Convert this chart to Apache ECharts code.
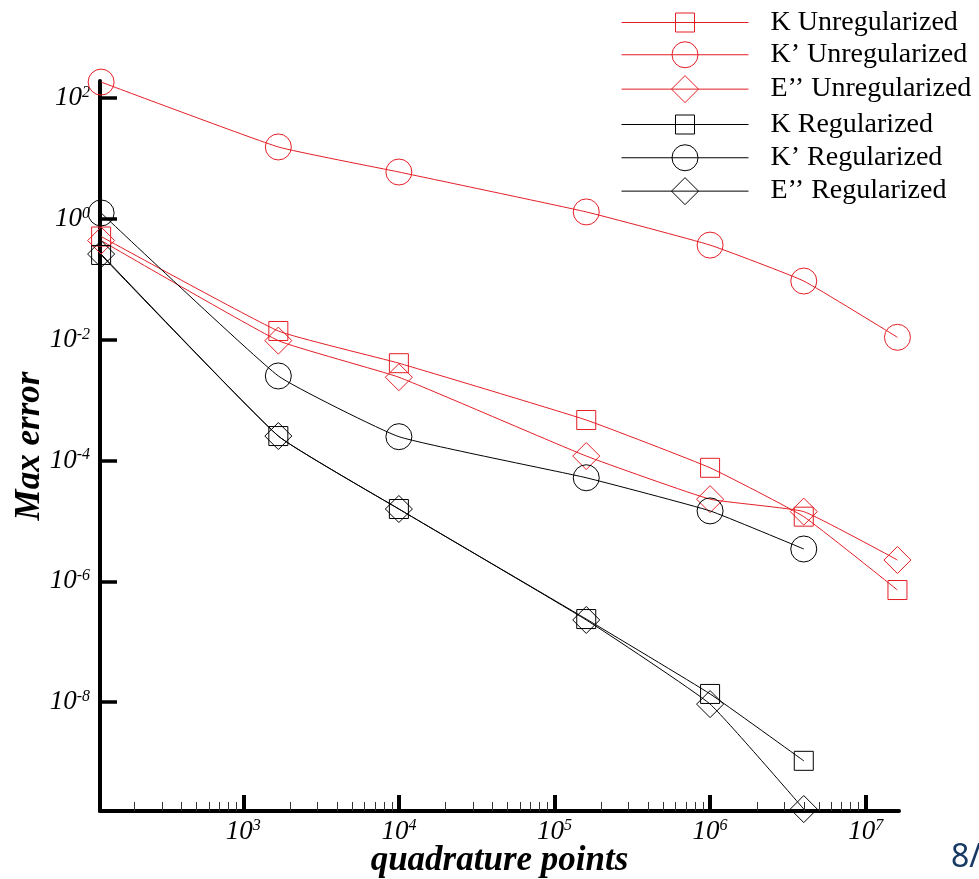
<!DOCTYPE html>
<html>
<head>
<meta charset="utf-8">
<title>Max error vs quadrature points</title>
<script src="https://cdn.jsdelivr.net/npm/echarts@6/dist/echarts.min.js"></script>
<style>
  html, body { margin: 0; padding: 0; background: #fff; }
  #chart { width: 979px; height: 879px; }
</style>
</head>
<body>
<div id="chart"></div>
<script>
// Number of quadrature points for each refinement level
const quadPoints = [122, 1680, 10000, 160000, 1000000, 4000000, 16000000];

// Max error of each kernel, unregularized vs regularized
const kUnreg  = [0.513, 0.014, 0.0041, 4.7e-4, 7.6e-5, 1.18e-5, 7.2e-7];
const kpUnreg = [185, 15.6, 6.0, 1.31, 0.37, 0.094, 0.011];
const eUnreg  = [0.44, 0.0097, 0.0024, 1.19e-4, 2.3e-5, 1.43e-5, 2.26e-6];
const kReg    = [0.254, 2.55e-4, 1.58e-5, 2.38e-7, 1.37e-8, 1.07e-9];
const kpReg   = [1.26, 2.52e-3, 2.49e-4, 5.2e-5, 1.47e-5, 3.44e-6];
const eReg    = [0.263, 2.55e-4, 1.58e-5, 2.3e-7, 9.3e-9, 1.7e-10];

const seriesNames = [
  'K Unregularized', 'K\u2019 Unregularized', 'E\u2019\u2019 Unregularized',
  'K Regularized', 'K\u2019 Regularized', 'E\u2019\u2019 Regularized'
];

// Tick positions
const xMajorTicks = [1e3, 1e4, 1e5, 1e6, 1e7];
const yMajorTicks = [1e2, 1, 1e-2, 1e-4, 1e-6, 1e-8];

const RED = '#e41e26';
const BLACK = '#000000';
const SERIF = '"Liberation Serif", "Times New Roman", serif';

const xMin = 120, xMax = 1.637e7;
const yMin = 1.58e-10, yMax = 192.8;

// minor ticks at 2..9 x 10^k inside the x range
const xMinorTicks = [];
for (let e = 2; e <= 7; e++) {
  for (let m = 2; m <= 9; m++) {
    const v = m * Math.pow(10, e);
    if (v > xMin && v < xMax) xMinorTicks.push(v);
  }
}

const styles = [
  { values: kUnreg,  color: RED,   symbol: 'rect',    size: 19 },
  { values: kpUnreg, color: RED,   symbol: 'circle',  size: 26 },
  { values: eUnreg,  color: RED,   symbol: 'diamond', size: 27 },
  { values: kReg,    color: BLACK, symbol: 'rect',    size: 19 },
  { values: kpReg,   color: BLACK, symbol: 'circle',  size: 26 },
  { values: eReg,    color: BLACK, symbol: 'diamond', size: 27 }
];

function powLabel(v) {
  const e = Math.round(Math.log10(v));
  return '{b|10}{s|' + e + '}';
}

const labelRich = {
  b: { fontFamily: SERIF, fontStyle: 'italic', fontSize: 27, lineHeight: 27, color: '#000' },
  s: { fontFamily: SERIF, fontStyle: 'italic', fontSize: 16, lineHeight: 5, verticalAlign: 'top', color: '#000' }
};

const series = styles.map((s, i) => ({
  name: seriesNames[i],
  type: 'line',
  data: s.values.map((v, j) => [quadPoints[j], v]),
  symbol: s.symbol,
  symbolSize: s.size,
  showAllSymbol: true,
  clip: false,
  smooth: 0.12,
  lineStyle: { color: s.color, width: 1 },
  itemStyle: { color: 'transparent', borderColor: s.color, borderWidth: 1 },
  emphasis: { disabled: true },
  z: i < 3 ? 2 : 3
}));

// one legend block per row so every marker keeps its own size
const legendRowY = [20, 53, 88, 122, 156, 190];
const legendFont = 28;
const legends = styles.map((s, i) => {
  const h = s.size / 0.8;
  const rowH = Math.max(h, legendFont);
  const shift = s.symbol === 'rect' ? 2.5 : 4;
  return {
    data: [seriesNames[i]],
    left: 621,
    top: legendRowY[i] - rowH / 2 + shift,
    padding: 0,
    itemGap: 0,
    itemWidth: 127,
    itemHeight: h,
    selectedMode: false,
    itemStyle: { color: 'transparent', borderColor: s.color, borderWidth: 1 },
    lineStyle: { color: s.color, width: 1 },
    textStyle: { fontFamily: SERIF, fontSize: legendFont, color: '#000', padding: [0, 0, 0, 17] }
  };
});

const chart = echarts.init(document.getElementById('chart'), null, { renderer: 'canvas' });
chart.setOption({
  animation: false,
  backgroundColor: '#fff',
  grid: { left: 100, right: 80, top: 81, bottom: 68, containLabel: false, outerBoundsMode: 'none' },
  legend: legends,
  xAxis: [
    {
      type: 'log',
      position: 'bottom',
      min: xMin,
      max: xMax,
      name: 'quadrature points',
      nameLocation: 'middle',
      nameGap: 32,
      nameMoveOverlap: false,
      nameTextStyle: { fontFamily: SERIF, fontStyle: 'italic', fontWeight: 'bold', fontSize: 35, color: '#000' },
      axisLine: { show: true, lineStyle: { color: '#000', width: 4 } },
      axisTick: { show: true, inside: true, length: 16, lineStyle: { color: '#000', width: 4 }, customValues: xMajorTicks },
      axisLabel: { show: true, margin: 7, formatter: powLabel, rich: labelRich, customValues: xMajorTicks, hideOverlap: false },
      minorTick: { show: false },
      splitLine: { show: false }
    },
    {
      type: 'log',
      position: 'bottom',
      min: xMin,
      max: xMax,
      axisLine: { show: false },
      axisTick: { show: true, inside: true, length: 9, lineStyle: { color: '#333', width: 1 }, customValues: xMinorTicks },
      axisLabel: { show: false },
      splitLine: { show: false }
    }
  ],
  yAxis: {
    type: 'log',
    min: yMin,
    max: yMax,
    name: 'Max error',
    nameLocation: 'middle',
    nameGap: 53,
    nameMoveOverlap: false,
    nameTextStyle: { fontFamily: SERIF, fontStyle: 'italic', fontWeight: 'bold', fontSize: 35, color: '#000' },
    axisLine: { show: true, lineStyle: { color: '#000', width: 4 } },
    axisTick: { show: true, inside: true, length: 17, lineStyle: { color: '#000', width: 3.5 }, customValues: yMajorTicks },
    axisLabel: { show: true, margin: 10, formatter: powLabel, rich: labelRich, customValues: yMajorTicks, hideOverlap: false },
    minorTick: { show: false },
    splitLine: { show: false }
  },
  graphic: [
    {
      type: 'text',
      left: 951,
      top: 842,
      style: { text: '8/', fontFamily: '"Noto Sans", "DejaVu Sans", sans-serif', fontSize: 32, fill: '#163a63' }
    }
  ],
  series: series
});
</script>
</body>
</html>
